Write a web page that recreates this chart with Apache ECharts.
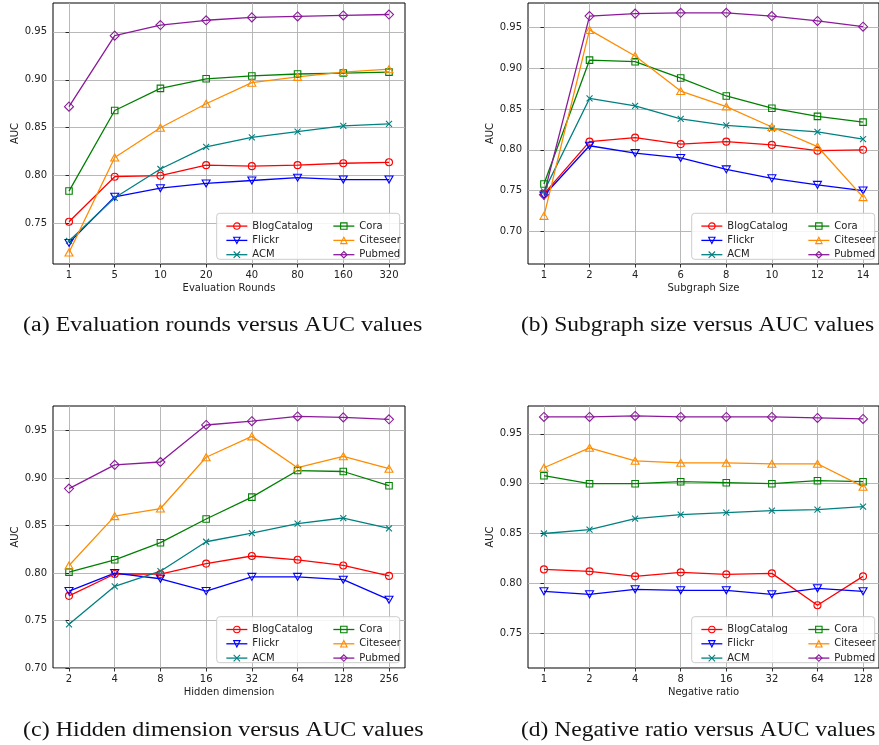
<!DOCTYPE html>
<html>
<head>
<meta charset="utf-8">
<script src="https://cdn.jsdelivr.net/npm/echarts@6/dist/echarts.min.js"></script>
<style>
html,body{margin:0;padding:0;background:#fff;}
#chart{width:879px;height:745px;}
</style>
</head>
<body>
<div id="chart"></div>
<script>
// ---- tick labels ----
const roundsLabels = ['1','5','10','20','40','80','160','320'];
const sizeLabels = ['1','2','4','6','8','10','12','14'];
const dimLabels = ['2','4','8','16','32','64','128','256'];
const ratioLabels = ['1','2','4','8','16','32','64','128'];

const seriesNames = ['BlogCatalog','Flickr','ACM','Cora','Citeseer','Pubmed'];
const yTicksA = [0.75,0.80,0.85,0.90,0.95];
const yTicksB = [0.70,0.75,0.80,0.85,0.90,0.95];
const yTicksC = [0.70,0.75,0.80,0.85,0.90,0.95];
const yTicksD = [0.75,0.80,0.85,0.90,0.95];

// ---- (a) Evaluation rounds ----
const a_BlogCatalog = [0.752,0.799,0.800,0.811,0.810,0.811,0.813,0.814];
const a_Flickr      = [0.730,0.778,0.787,0.792,0.795,0.798,0.796,0.796];
const a_ACM         = [0.732,0.777,0.807,0.830,0.840,0.846,0.852,0.854];
const a_Cora        = [0.784,0.868,0.891,0.901,0.904,0.906,0.907,0.908];
const a_Citeseer    = [0.720,0.819,0.850,0.875,0.897,0.903,0.908,0.911];
const a_Pubmed      = [0.872,0.946,0.957,0.962,0.965,0.966,0.967,0.968];

// ---- (b) Subgraph size ----
const b_BlogCatalog = [0.746,0.810,0.815,0.807,0.810,0.806,0.799,0.800];
const b_Flickr      = [0.744,0.805,0.796,0.790,0.776,0.765,0.757,0.750];
const b_ACM         = [0.749,0.863,0.854,0.838,0.830,0.826,0.822,0.813];
const b_Cora        = [0.758,0.910,0.908,0.888,0.866,0.851,0.841,0.834];
const b_Citeseer    = [0.719,0.947,0.915,0.872,0.853,0.828,0.804,0.742];
const b_Pubmed      = [0.745,0.964,0.967,0.968,0.968,0.964,0.958,0.951];

// ---- (c) Hidden dimension ----
const c_BlogCatalog = [0.776,0.799,0.799,0.810,0.818,0.814,0.808,0.797];
const c_Flickr      = [0.781,0.800,0.794,0.781,0.796,0.796,0.793,0.772];
const c_ACM         = [0.746,0.786,0.802,0.833,0.842,0.852,0.858,0.847];
const c_Cora        = [0.801,0.814,0.832,0.857,0.880,0.908,0.907,0.892];
const c_Citeseer    = [0.808,0.860,0.868,0.922,0.944,0.911,0.923,0.910];
const c_Pubmed      = [0.889,0.914,0.917,0.956,0.960,0.965,0.964,0.962];

// ---- (d) Negative ratio ----
const d_BlogCatalog = [0.814,0.812,0.807,0.811,0.809,0.810,0.778,0.807];
const d_Flickr      = [0.792,0.789,0.794,0.793,0.793,0.789,0.795,0.792];
const d_ACM         = [0.850,0.854,0.865,0.869,0.871,0.873,0.874,0.877];
const d_Cora        = [0.908,0.900,0.900,0.902,0.901,0.900,0.903,0.902];
const d_Citeseer    = [0.916,0.936,0.923,0.921,0.921,0.920,0.920,0.897];
const d_Pubmed      = [0.967,0.967,0.968,0.967,0.967,0.967,0.966,0.965];

const captions = [
  '(a) Evaluation rounds versus AUC values',
  '(b) Subgraph size versus AUC values',
  '(c) Hidden dimension versus AUC values',
  '(d) Negative ratio versus AUC values'
];

// ---- styles ----
const colors = {BlogCatalog:'#ff0000', Flickr:'#0000ff', ACM:'#008080', Cora:'#008000', Citeseer:'#ff8c00', Pubmed:'#8b1a9b'};
const symbols = {
  BlogCatalog:{symbol:'circle', size:7, rot:0},
  Flickr:{symbol:'triangle', size:[8,7], rot:180},
  ACM:{symbol:'path://M0,0L10,10M10,0L0,10', size:6, rot:0},
  Cora:{symbol:'rect', size:6.5, rot:0},
  Citeseer:{symbol:'triangle', size:[8,7], rot:0},
  Pubmed:{symbol:'diamond', size:9, rot:0}
};
const FONT = 'DejaVu Sans';

const panels = [
  {labels: roundsLabels, xName:'Evaluation Rounds', data:[a_BlogCatalog,a_Flickr,a_ACM,a_Cora,a_Citeseer,a_Pubmed], yMin:0.708, yMax:0.980, yTicks:yTicksA,
   grid:{left:53, top:3, width:352, height:261}, legendX:216.7, legendY:213.3},
  {labels: sizeLabels, xName:'Subgraph Size', data:[b_BlogCatalog,b_Flickr,b_ACM,b_Cora,b_Citeseer,b_Pubmed], yMin:0.660, yMax:0.980, yTicks:yTicksB,
   grid:{left:528, top:3, width:352, height:261}, legendX:691.7, legendY:213.3},
  {labels: dimLabels, xName:'Hidden dimension', data:[c_BlogCatalog,c_Flickr,c_ACM,c_Cora,c_Citeseer,c_Pubmed], yMin:0.700, yMax:0.976, yTicks:yTicksC,
   grid:{left:53, top:406, width:352, height:262}, legendX:216.7, legendY:616.7},
  {labels: ratioLabels, xName:'Negative ratio', data:[d_BlogCatalog,d_Flickr,d_ACM,d_Cora,d_Citeseer,d_Pubmed], yMin:0.715, yMax:0.978, yTicks:yTicksD,
   grid:{left:528, top:406, width:352, height:262}, legendX:691.7, legendY:616.7}
];

const option = {
  animation:false,
  backgroundColor:'#fff',
  grid:[], xAxis:[], yAxis:[], series:[], legend:[], graphic:[]
};

const splitStyle = {show:true, lineStyle:{color:'#b0b0b0', width:0.9}};
panels.forEach((p, pi) => {
  option.grid.push(Object.assign({show:true, borderColor:'#000', borderWidth:1, backgroundColor:'transparent', containLabel:false}, p.grid));
  const idxs = p.labels.map((_, i) => i);
  option.xAxis.push({
    gridIndex:pi, type:'value', min:-0.35, max:p.labels.length - 1 + 0.35,
    name:p.xName, nameLocation:'middle', nameGap:19,
    nameTextStyle:{fontFamily:FONT, fontSize:10, color:'#222'},
    axisLine:{show:false},
    axisTick:{show:true, length:3.5, customValues:idxs, lineStyle:{color:'#000', width:0.8}},
    axisLabel:{customValues:idxs, margin:6, fontFamily:FONT, fontSize:10, color:'#222',
      formatter:(v) => p.labels[Math.round(v)]},
    splitLine:splitStyle
  });
  option.yAxis.push({
    gridIndex:pi, type:'value', min:p.yMin, max:p.yMax,
    name:'AUC', nameLocation:'middle', nameGap:31, nameRotate:90,
    nameTextStyle:{fontFamily:FONT, fontSize:10, color:'#222'},
    axisLine:{show:false},
    axisTick:{show:true, length:3.5, customValues:p.yTicks, lineStyle:{color:'#000', width:0.8}},
    axisLabel:{customValues:p.yTicks, margin:6, fontFamily:FONT, fontSize:10, color:'#222',
      formatter:(v) => v.toFixed(2)},
    splitLine:splitStyle
  });
  seriesNames.forEach((name, si) => {
    const s = symbols[name];
    option.series.push({
      type:'line', name:name, xAxisIndex:pi, yAxisIndex:pi,
      data:p.data[si].map((v, i) => [i, v]),
      symbol:s.symbol, symbolSize:s.size, symbolRotate:s.rot, showAllSymbol:true,
      clip:false, z:2,
      color:colors[name],
      lineStyle:{color:colors[name], width:1.3},
      itemStyle:{color:'rgba(255,255,255,0)', borderColor:colors[name], borderWidth:1.1},
      emphasis:{disabled:true}
    });
  });
  // legend box
  option.graphic.push({
    type:'rect', z:3,
    shape:{x:p.legendX, y:p.legendY, width:183, height:46, r:3},
    style:{fill:'rgba(255,255,255,0.85)', stroke:'#cccccc', lineWidth:1}
  });
  [[0,3,4],[3,6,111]].forEach(([a, b, dx]) => {
    option.legend.push({
      orient:'vertical', left:p.legendX + dx, top:p.legendY + 1.8,
      data:seriesNames.slice(a, b).map(n => ({
        name:n,
        itemStyle:{color:'rgba(255,255,255,0)', borderColor:colors[n], borderWidth:1.1},
        lineStyle:{color:colors[n], width:1.3}
      })),
      z:5,
      itemWidth:21, itemHeight:8, itemGap:2.3,
      selectedMode:false,
      textStyle:{fontFamily:FONT, fontSize:10, color:'#222', lineHeight:12}
    });
  });
});

// captions
[[23,316,1.2],[521,316,1.175],[23,721,1.2],[521,721,1.175]].forEach(([x, y, sx], i) => {
  option.graphic.push({
    type:'text', x:x, y:y, scaleX:sx,
    style:{text:captions[i], font:'20px "Liberation Serif"', fill:'#111', align:'left', verticalAlign:'top'}
  });
});

const chart = echarts.init(document.getElementById('chart'), null, {renderer:'canvas'});
chart.setOption(option);
</script>
</body>
</html>
